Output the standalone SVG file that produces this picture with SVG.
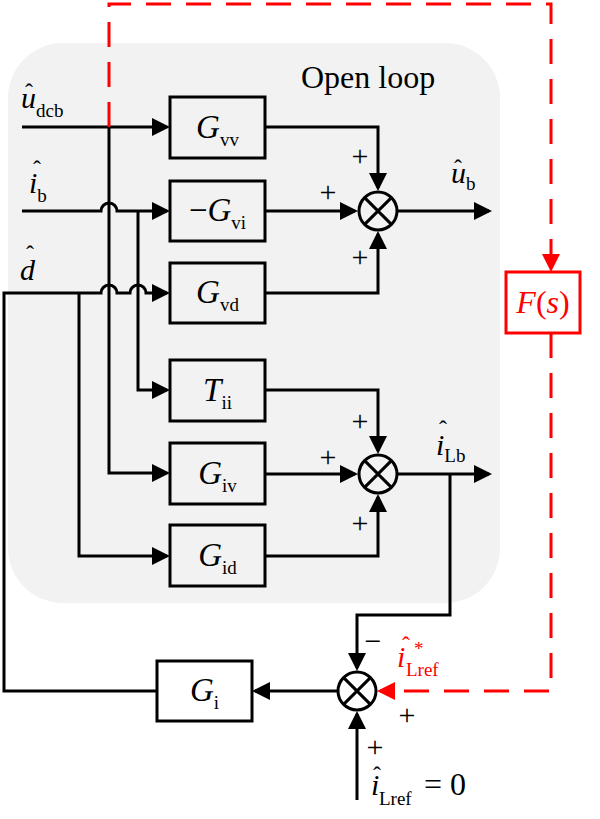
<svg xmlns="http://www.w3.org/2000/svg" width="600" height="819" viewBox="0 0 600 819">
<style>
.ln{fill:none;stroke:#000;stroke-width:3;stroke-linejoin:miter}
.rd{fill:none;stroke:#ff0000;stroke-width:3;stroke-dasharray:25 15}
.box{fill:none;stroke:#000;stroke-width:3}
.sum{fill:none;stroke:#000;stroke-width:3}
.t{font-family:"Liberation Serif","Times New Roman",serif;fill:#000}
.it{font-style:italic}
.g{font-size:33px}
.sb{font-size:19px;font-style:normal}
.sg{font-size:30px}
.ss{font-size:19px;font-style:normal}
.pl{font-size:30px;text-anchor:middle}
.hat{font-size:24px;text-anchor:middle}
.red{fill:#ff0000}
</style>
<defs>
<marker id="ah" markerUnits="userSpaceOnUse" markerWidth="18" markerHeight="18" refX="15" refY="9" orient="auto"><path d="M0,0 L18,9 L0,18 z" fill="#000"/></marker>
<marker id="ahr" markerUnits="userSpaceOnUse" markerWidth="18" markerHeight="18" refX="15" refY="9" orient="auto"><path d="M0,0 L18,9 L0,18 z" fill="#ff0000"/></marker>
</defs>
<rect x="8" y="43" width="492" height="560" rx="55" ry="55" fill="#f2f2f2"/>
<text class="t" x="301" y="88" font-size="32">Open loop</text>

<g id="connectors">
<path class="ln" d="M22,127 H167" marker-end="url(#ah)"/>
<path class="ln" d="M22,211 H101 A8,8 0 0 1 117,211 H167" marker-end="url(#ah)"/>
<path class="ln" d="M157,691 H4 V293 H101 A8,8 0 0 1 117,293 H130 A8,8 0 0 1 146,293 H167" marker-end="url(#ah)"/>
<path class="ln" d="M109,127 V473 H167" marker-end="url(#ah)"/>
<path class="ln" d="M138,211 V390 H167" marker-end="url(#ah)"/>
<path class="ln" d="M79,293 V556 H167" marker-end="url(#ah)"/>
<path class="ln" d="M265,127 H378 V188" marker-end="url(#ah)"/>
<path class="ln" d="M265,211 H355" marker-end="url(#ah)"/>
<path class="ln" d="M265,293 H378 V234" marker-end="url(#ah)"/>
<path class="ln" d="M398,211 H489" marker-end="url(#ah)"/>
<path class="ln" d="M265,390 H378 V451" marker-end="url(#ah)"/>
<path class="ln" d="M265,474 H355" marker-end="url(#ah)"/>
<path class="ln" d="M265,556 H378 V497" marker-end="url(#ah)"/>
<path class="ln" d="M398,474 H489" marker-end="url(#ah)"/>
<path class="ln" d="M450,474 V615 H357 V668" marker-end="url(#ah)"/>
<path class="ln" d="M337,691 H255" marker-end="url(#ah)"/>
<path class="ln" d="M357,800 V714" marker-end="url(#ah)"/>
<path class="rd" d="M109,127 V4 H551 V269" marker-end="url(#ahr)"/>
<path class="rd" d="M551,333 V691 H380" marker-end="url(#ahr)"/>
</g>

<g id="Gvv"><rect class="box" x="170" y="97" width="95" height="61"/>
<text class="t" x="217.5" y="138" text-anchor="middle"><tspan class="it g">G</tspan><tspan class="sb" dy="8">vv</tspan></text></g>
<g id="Gvi"><rect class="box" x="170" y="181" width="95" height="60"/>
<text class="t" x="217.5" y="221" text-anchor="middle"><tspan class="g">−</tspan><tspan class="it g">G</tspan><tspan class="sb" dy="8">vi</tspan></text></g>
<g id="Gvd"><rect class="box" x="170" y="263" width="95" height="60"/>
<text class="t" x="217.5" y="303" text-anchor="middle"><tspan class="it g">G</tspan><tspan class="sb" dy="8">vd</tspan></text></g>
<g id="Tii"><rect class="box" x="170" y="360" width="95" height="61"/>
<text class="t" x="217.5" y="401" text-anchor="middle"><tspan class="it g">T</tspan><tspan class="sb" dy="8">ii</tspan></text></g>
<g id="Giv"><rect class="box" x="170" y="443" width="95" height="61"/>
<text class="t" x="217.5" y="484" text-anchor="middle"><tspan class="it g">G</tspan><tspan class="sb" dy="8">iv</tspan></text></g>
<g id="Gid"><rect class="box" x="170" y="525" width="95" height="61"/>
<text class="t" x="217.5" y="566" text-anchor="middle"><tspan class="it g">G</tspan><tspan class="sb" dy="8">id</tspan></text></g>
<g id="Gi"><rect class="box" x="157" y="661" width="95" height="60"/>
<text class="t" x="204.5" y="701" text-anchor="middle"><tspan class="it g">G</tspan><tspan class="sb" dy="8">i</tspan></text></g>
<g id="Fs"><rect x="506" y="272" width="74" height="61" fill="#fff" stroke="#ff0000" stroke-width="3"/>
<text class="t red" x="543" y="313" text-anchor="middle" font-size="32"><tspan class="it">F</tspan><tspan>(</tspan><tspan class="it">s</tspan><tspan>)</tspan></text></g>

<g id="sum1"><circle class="sum" cx="378" cy="211" r="19"/><path class="ln" d="M364.6,197.6 L391.4,224.4 M391.4,197.6 L364.6,224.4"/></g>
<g id="sum2"><circle class="sum" cx="378" cy="474" r="19"/><path class="ln" d="M364.6,460.6 L391.4,487.4 M391.4,460.6 L364.6,487.4"/></g>
<g id="sum3"><circle class="sum" cx="357" cy="691" r="19"/><path class="ln" d="M343.6,677.6 L370.4,704.4 M370.4,677.6 L343.6,704.4"/></g>

<g id="signs">
<text class="t pl" x="360" y="166">+</text>
<text class="t pl" x="328" y="202">+</text>
<text class="t pl" x="360" y="267">+</text>
<text class="t pl" x="360" y="431">+</text>
<text class="t pl" x="328" y="467">+</text>
<text class="t pl" x="360" y="533">+</text>
<text class="t pl" x="407" y="725">+</text>
<text class="t pl" x="375" y="757">+</text>
<text class="t pl" x="373" y="651">−</text>
</g>

<g id="labels">
<text class="t hat" x="29" y="100">ˆ</text>
<text class="t" x="21" y="108"><tspan class="it sg">u</tspan><tspan class="ss" dy="9">dcb</tspan></text>
<text class="t hat" x="37" y="177">ˆ</text>
<text class="t" x="29" y="193"><tspan class="it sg">i</tspan><tspan class="ss" dy="9">b</tspan></text>
<text class="t hat" x="30" y="262">ˆ</text>
<text class="t it sg" x="20" y="280">d</text>
<text class="t hat" x="458" y="176">ˆ</text>
<text class="t" x="451" y="183"><tspan class="it sg">u</tspan><tspan class="ss" dy="7">b</tspan></text>
<text class="t hat" x="443" y="437">ˆ</text>
<text class="t" x="436" y="455"><tspan class="it sg">i</tspan><tspan class="ss" dy="7">Lb</tspan></text>
<text class="t hat red" x="406" y="653">ˆ</text>
<text class="t red it sg" x="397" y="667">i</text>
<text class="t red" x="414" y="655" font-size="19">*</text>
<text class="t red" x="406" y="676" font-size="19">Lref</text>
<text class="t hat" x="377" y="783">ˆ</text>
<text class="t it sg" x="371" y="795">i</text>
<text class="t" x="379" y="805" font-size="19">Lref</text>
<text class="t" x="424" y="795" font-size="32">= 0</text>
</g>
</svg>
